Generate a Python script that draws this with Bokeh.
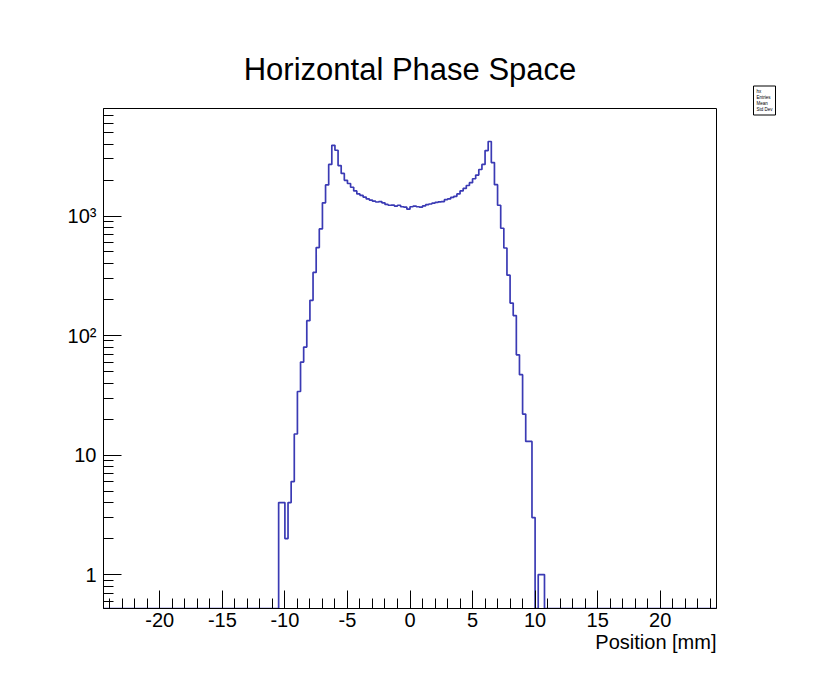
import numpy as np
from bokeh.plotting import figure
from bokeh.models import (Range1d, SingleIntervalTicker, FixedTicker, Title,
                          Label)
from bokeh.embed import file_html
from bokeh.resources import INLINE

# ---- data ----
bin_width = 0.25
hist_low = -24.5
hist_high = 24.5
first_filled_edge = -10.5  # left edge of the first listed bin
counts = [
    4, 4, 2, 4, 6, 15, 34, 60, 80, 133,
    197, 337, 544, 780, 1290, 1820, 2700, 3900, 3550, 2640,
    2270, 1990, 1870, 1740, 1620, 1530, 1490, 1440, 1390, 1360,
    1330, 1310, 1320, 1290, 1250, 1230, 1235, 1210, 1230, 1195,
    1185, 1140, 1195, 1210, 1195, 1185, 1215, 1245, 1260, 1280,
    1300, 1315, 1320, 1370, 1390, 1430, 1460, 1530, 1620, 1700,
    1800, 1900, 2050, 2200, 2450, 2700, 3530, 4200, 2800, 1830,
    1230, 790, 540, 320, 187, 147, 69, 47, 22, 13,
    13, 3, 0, 1, 1,
]
y_ticks = [1, 10, 100, 1000]
y_tick_labels = {1: "1", 10: "10", 100: "10²", 1000: "10³"}
x_ticks = [-20, -15, -10, -5, 0, 5, 10, 15, 20]
x_tick_labels = {v: str(v) for v in x_ticks}
title_text = "Horizontal Phase Space"
x_title = "Position [mm]"
stats_text = "hx\nEntries\nMean\nStd Dev"

# ---- build the histogram ----
n_bins = int(round((hist_high - hist_low) / bin_width))
edges = hist_low + bin_width * np.arange(n_bins + 1)
full = np.zeros(n_bins)
start = int(round((first_filled_edge - hist_low) / bin_width))
full[start:start + len(counts)] = counts

y_lo, y_hi = 0.52, 7935.0
shown = np.where(full > 0, full, y_lo)
xs = np.repeat(edges, 2)[1:-1]
ys = np.repeat(shown, 2)

FONT = "Liberation Sans"

p = figure(width=822, height=683, y_axis_type="log",
           x_range=Range1d(hist_low, hist_high), y_range=Range1d(y_lo, y_hi),
           output_backend="svg", toolbar_location=None,
           min_border_left=103, min_border_right=106,
           min_border_top=108, min_border_bottom=75)
p.background_fill_color = "white"
p.border_fill_color = "white"
p.outline_line_color = "black"
p.outline_line_width = 1
p.xgrid.visible = False
p.ygrid.visible = False

p.title.text = title_text
p.title.align = "center"
p.title.text_font = FONT
p.title.text_font_size = "31px"
p.title.text_font_style = "normal"
p.title.text_color = "black"
p.title.standoff = 44
p.title.offset = -4

p.line(xs, ys, line_color="#3a3ab4", line_width=1.7)

xa = p.xaxis[0]
xa.ticker = SingleIntervalTicker(interval=5, num_minor_ticks=5)
xa.major_label_overrides = x_tick_labels
ya = p.yaxis[0]
minor = [m * 10.0 ** k for k in range(-1, 4) for m in range(2, 10)]
ya.ticker = FixedTicker(ticks=y_ticks, minor_ticks=[v for v in minor if y_lo <= v <= y_hi])
ya.major_label_overrides = y_tick_labels

for ax in (xa, ya):
    ax.axis_line_color = "black"
    ax.axis_line_width = 1
    ax.major_tick_in = 18
    ax.major_tick_out = 0
    ax.minor_tick_in = 10
    ax.minor_tick_out = 0
    ax.major_tick_line_color = "black"
    ax.minor_tick_line_color = "black"
    ax.major_label_text_font = FONT
    ax.major_label_text_font_size = "20px"
    ax.major_label_text_color = "black"
xa.major_label_standoff = 4
ya.major_label_standoff = 7

p.add_layout(Title(text=x_title, align="right", text_font=FONT,
                   text_font_size="20px", text_font_style="normal",
                   text_color="black", standoff=-2, offset=0), "below")

# small statistics box at the top right (outside the frame)
p.add_layout(Label(x=37, y=508, x_units="screen", y_units="screen",
                   text=stats_text, text_font=FONT, text_font_size="4.5px",
                   text_color="black", text_baseline="middle",
                   text_line_height=1.2,
                   border_line_color="black", border_line_width=1,
                   background_fill_color="white", padding=3), "right")

open("out.html", "w").write(file_html(p, INLINE))
